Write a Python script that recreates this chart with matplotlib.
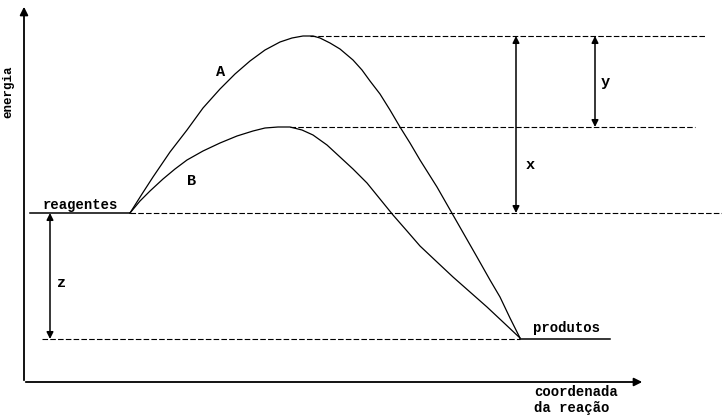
import matplotlib.pyplot as plt

# energy levels (picture units, y grows downwards)
level_reagentes = 213
level_produtos = 339
level_peak_a = 36
level_peak_b = 127

# path A (higher barrier)
curve_a_x = [130, 142, 153, 170, 187, 203, 220, 235, 250, 265, 280, 292, 303, 313,
             320, 330, 340, 353, 362, 370, 380, 390, 400, 410, 420, 437, 453, 465, 477, 490, 500, 510, 520]
curve_a_y = [213, 194, 177, 152, 130, 108, 89, 74, 61, 50, 42, 38, 36, 36,
             38, 43, 49, 60, 70, 81, 94, 110, 127, 143, 160, 187, 215, 236, 257, 280, 297, 318, 338]

# path B (lower barrier)
curve_b_x = [130, 140, 150, 163, 175, 187, 203, 220, 237, 253, 265, 278, 290, 302, 313,
             327, 340, 353, 367, 380, 393, 407, 420, 437, 453, 470, 487, 503, 520]
curve_b_y = [213, 201, 191, 179, 169, 160, 151, 143, 136, 131, 128, 127, 127, 130, 135,
             145, 157, 169, 183, 199, 215, 231, 246, 262, 277, 292, 307, 322, 338]

mono = 'Liberation Mono'

fig = plt.figure(figsize=(7.22, 4.17), dpi=100)
ax = fig.add_axes([0, 0, 1, 1])
ax.set_xlim(0, 722)
ax.set_ylim(417, 0)
ax.axis('off')

# axes with arrows
ax.annotate('', xy=(24, 4), xytext=(24, 383),
            arrowprops=dict(arrowstyle='-|>', color='black', lw=1.3, mutation_scale=12))
ax.annotate('', xy=(645, 382), xytext=(23, 382),
            arrowprops=dict(arrowstyle='-|>', color='black', lw=1.3, mutation_scale=12))

# level lines
ax.plot([30, 130], [level_reagentes, level_reagentes], color='black', lw=1.1)
ax.plot([130, 722], [level_reagentes, level_reagentes], color='black', lw=0.8, ls=(0, (5, 2)))
ax.plot([42, 520], [level_produtos, level_produtos], color='black', lw=0.8, ls=(0, (5, 2)))
ax.plot([520, 610], [level_produtos, level_produtos], color='black', lw=1.1)
ax.plot([310, 705], [level_peak_a, level_peak_a], color='black', lw=0.8, ls=(0, (5, 2)))
ax.plot([290, 695], [level_peak_b, level_peak_b], color='black', lw=0.8, ls=(0, (5, 2)))

# reaction paths
ax.plot(curve_a_x, curve_a_y, color='black', lw=0.9)
ax.plot(curve_b_x, curve_b_y, color='black', lw=0.9)

# double arrows
arr = dict(arrowstyle='<|-|>', color='black', lw=1.1, mutation_scale=10, shrinkA=0, shrinkB=0)
ax.annotate('', xy=(516, level_peak_a), xytext=(516, level_reagentes), arrowprops=arr)
ax.annotate('', xy=(595, level_peak_a), xytext=(595, level_peak_b), arrowprops=arr)
ax.annotate('', xy=(50, level_reagentes), xytext=(50, level_produtos), arrowprops=arr)

# labels
tk = dict(family=mono, fontweight='bold', color='black')
ax.text(80, 205, 'reagentes', ha='center', va='center', fontsize=10, **tk)
ax.text(566, 328, 'produtos', ha='center', va='center', fontsize=10, **tk)
ax.text(221, 72, 'A', ha='center', va='center', fontsize=11, **tk)
ax.text(192, 181, 'B', ha='center', va='center', fontsize=11, **tk)
ax.text(530, 165, 'x', ha='center', va='center', fontsize=11, **tk)
ax.text(605, 82, 'y', ha='center', va='center', fontsize=11, **tk)
ax.text(62, 283, 'z', ha='center', va='center', fontsize=11, **tk)
ax.text(8, 92, 'energia', ha='center', va='center', rotation=90, fontsize=9, **tk)
ax.text(534, 392, 'coordenada', ha='left', va='center', fontsize=10, **tk)
ax.text(534, 408, 'da reação', ha='left', va='center', fontsize=10, **tk)

fig.savefig('out.png', dpi=100)
